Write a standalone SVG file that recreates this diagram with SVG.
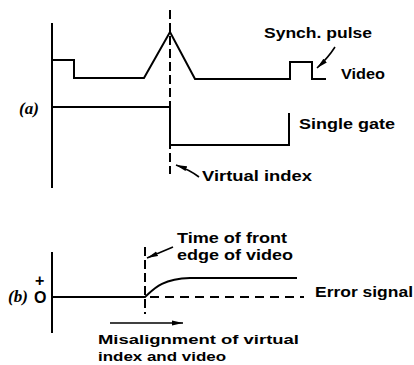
<svg xmlns="http://www.w3.org/2000/svg" width="414" height="365" viewBox="0 0 414 365">
<style>
.ln{fill:none;stroke:#000;stroke-width:2;stroke-linejoin:miter}
.ds{fill:none;stroke:#000;stroke-width:2;stroke-dasharray:9 4}
.dh{fill:none;stroke:#000;stroke-width:2;stroke-dasharray:9 6}
.pt{fill:none;stroke:#000;stroke-width:1.6}
text{font-family:"Liberation Sans",Arial,sans-serif;font-size:15.5px;fill:#000;font-weight:bold}
.sm{font-size:13.5px}
.lab{font-family:"Liberation Serif","Times New Roman",serif;font-style:italic;font-weight:bold;font-size:17px}
</style>
<defs>
<marker id="ah" markerWidth="12" markerHeight="6" refX="11" refY="3" orient="auto" markerUnits="userSpaceOnUse">
<path d="M0,0.5 L11,3 L0,5.5 Z" fill="#000"/>
</marker>
</defs>
<rect width="414" height="365" fill="#fff"/>
<g id="axis-a"><path class="ln" d="M52,23 V188"/></g>
<g id="video"><path class="ln" d="M52,60 H74 V78 H144 L170,32 L195,79 H290 V62 H312 V79 H326"/></g>
<g id="single-gate"><path class="ln" d="M52,107 H170 V145 H289 V113"/></g>
<g id="virtual-index-line"><path class="ds" d="M170,10 V174"/></g>
<g id="label-a"><text class="lab" x="19" y="114">(a)</text></g>
<g id="axis-b"><path class="ln" d="M52,252 V333"/></g>
<g id="error-signal"><path class="ln" d="M52,297 H145 C153,290 160,279 190,278 H297"/><path class="dh" d="M150,297 H304"/></g>
<g id="front-edge-line"><path class="ds" d="M145,247 V314"/></g>
<g id="label-b"><text class="lab" x="8" y="302">(b)</text><text x="35" y="286" style="font-size:16px">+</text><text x="34" y="303" style="font-size:16px">O</text></g>
<g id="connectors">
<path class="pt" d="M335,47 Q328,58 317,68" marker-end="url(#ah)"/>
<path class="pt" d="M199,177 Q190,170 176,165" marker-end="url(#ah)"/>
<path class="pt" d="M173,247 L147,258" marker-end="url(#ah)"/>
<path class="pt" d="M110,323 H183" marker-end="url(#ah)"/>
</g>
<g id="texts">
<text x="264" y="38" textLength="108" lengthAdjust="spacingAndGlyphs">Synch. pulse</text>
<text x="341" y="79" textLength="44" lengthAdjust="spacingAndGlyphs">Video</text>
<text x="299" y="129" textLength="96" lengthAdjust="spacingAndGlyphs">Single gate</text>
<text x="202" y="181" textLength="110" lengthAdjust="spacingAndGlyphs">Virtual index</text>
<text x="177" y="243" textLength="110" lengthAdjust="spacingAndGlyphs">Time of front</text>
<text x="177" y="260" textLength="116" lengthAdjust="spacingAndGlyphs">edge of video</text>
<text x="315" y="297" textLength="98" lengthAdjust="spacingAndGlyphs">Error signal</text>
<text class="sm" x="98" y="344" textLength="201" lengthAdjust="spacingAndGlyphs">Misalignment of virtual</text>
<text class="sm" x="98" y="361" textLength="128" lengthAdjust="spacingAndGlyphs">index and video</text>
</g>
</svg>
